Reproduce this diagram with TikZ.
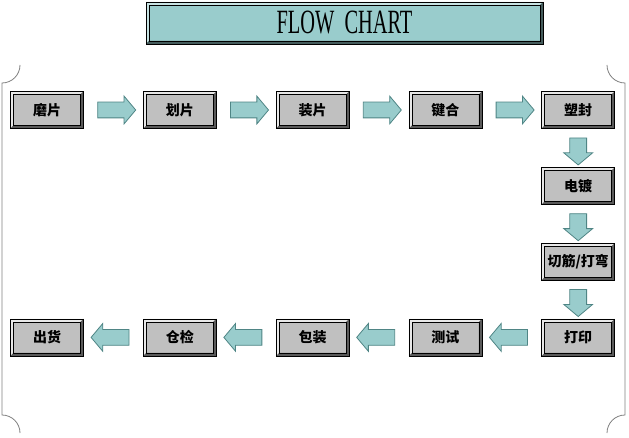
\documentclass[tikz,border=0pt]{standalone}
\usepackage{fontspec}
\newfontfamily\cjk{Noto Sans CJK SC}
\newfontfamily\titlefont{Liberation Serif}
\usetikzlibrary{positioning}
\usetikzlibrary{shapes.arrows}
\definecolor{chartteal}{HTML}{99CCCC}
\definecolor{arrowedge}{HTML}{4F8585}
\definecolor{boxgray}{HTML}{C0C0C0}
\definecolor{bevellight}{HTML}{E8E8E8}
\definecolor{beveldark}{HTML}{5A5A5A}

\begin{document}
\begin{tikzpicture}[x=1pt,y=1pt,
		node distance=38pt and 59pt,
		bevel/.style 2 args={path picture={
			\coordinate (bsw) at (path picture bounding box.south west);
			\coordinate (bne) at (path picture bounding box.north east);
			\coordinate (bnw) at (path picture bounding box.north west);
			\coordinate (bse) at (path picture bounding box.south east);
			\fill[#1] (bsw) -- (bnw) -- (bne) -- ([shift={(-3pt,-3pt)}]bne) -- ([shift={(3pt,-3pt)}]bnw) -- ([shift={(3pt,3pt)}]bsw) -- cycle;
			\fill[#2] (bsw) -- (bse) -- (bne) -- ([shift={(-3pt,-3pt)}]bne) -- ([shift={(-3pt,3pt)}]bse) -- ([shift={(3pt,3pt)}]bsw) -- cycle;
			\draw[black,line width=0.6pt] ([shift={(3pt,3pt)}]bsw) rectangle ([shift={(-3pt,-3pt)}]bne);
		}},
		stage/.style={draw=black,line width=0.8pt,fill=boxgray,bevel={bevellight}{beveldark},
		minimum width=73pt,minimum height=37pt,inner sep=0pt,
		font=\cjk\bfseries\fontsize{14pt}{16pt}\selectfont},
		titlebox/.style={draw=black,line width=0.8pt,fill=chartteal,
		bevel={chartteal!55!white}{chartteal!45!black},
		minimum width=397pt,minimum height=42pt,inner sep=0pt,
		font=\titlefont\fontsize{34pt}{36pt}\selectfont},
		flowarrow/.style={single arrow,draw=arrowedge,fill=chartteal,thick,
		minimum height=38pt,minimum width=27pt,single arrow head extend=6pt,
		single arrow tip angle=100,inner xsep=0pt,inner ysep=7.5pt,sloped,allow upside down},
		scrollline/.style={gray,line width=0.8pt},
		]
		\useasboundingbox (0,0) rectangle (629,437);

		\node[titlebox] (title) at (344.5,414) {\scalebox{0.6}[1]{FLOW\ \ CHART}};

		\node[stage] (mopian) at (47,327) {磨片};
		\node[stage,right=of mopian] (huapian) {划片};
		\node[stage,right=of huapian] (zhuangpian) {装片};
		\node[stage,right=of zhuangpian] (jianhe) {键合};
		\node[stage,right=of jianhe] (sufeng) {塑封};
		\node[stage,below=of sufeng] (diandu) {电镀};
		\node[stage,below=of diandu] (qiejin) {切筋/打弯};
		\node[stage,below=of qiejin] (dayin) {打印};
		\node[stage,left=of dayin] (ceshi) {测试};
		\node[stage,left=of ceshi] (baozhuang) {包装};
		\node[stage,left=of baozhuang] (cangjian) {仓检};
		\node[stage,left=of cangjian] (chuhuo) {出货};

		% block arrows between the stages
		\foreach \a/\b in {mopian/huapian,huapian/zhuangpian,zhuangpian/jianhe,jianhe/sufeng,
			dayin/ceshi,ceshi/baozhuang,baozhuang/cangjian,cangjian/chuhuo}
			\path (\a) -- node[flowarrow] {} (\b);
		\foreach \a/\b in {sufeng/diandu,diandu/qiejin,qiejin/dayin}
			\path (\a) -- node[flowarrow,minimum height=27pt,inner ysep=8pt] {} (\b);

		% scroll frame
		\draw[scrollline] (20,372) arc[start angle=0,end angle=-90,radius=18] -- (2,22)
			arc[start angle=90,end angle=0,radius=18];
		\draw[scrollline] (607,372) arc[start angle=180,end angle=270,radius=18] -- (625,22)
			arc[start angle=90,end angle=180,radius=18];
\end{tikzpicture}
\end{document}
